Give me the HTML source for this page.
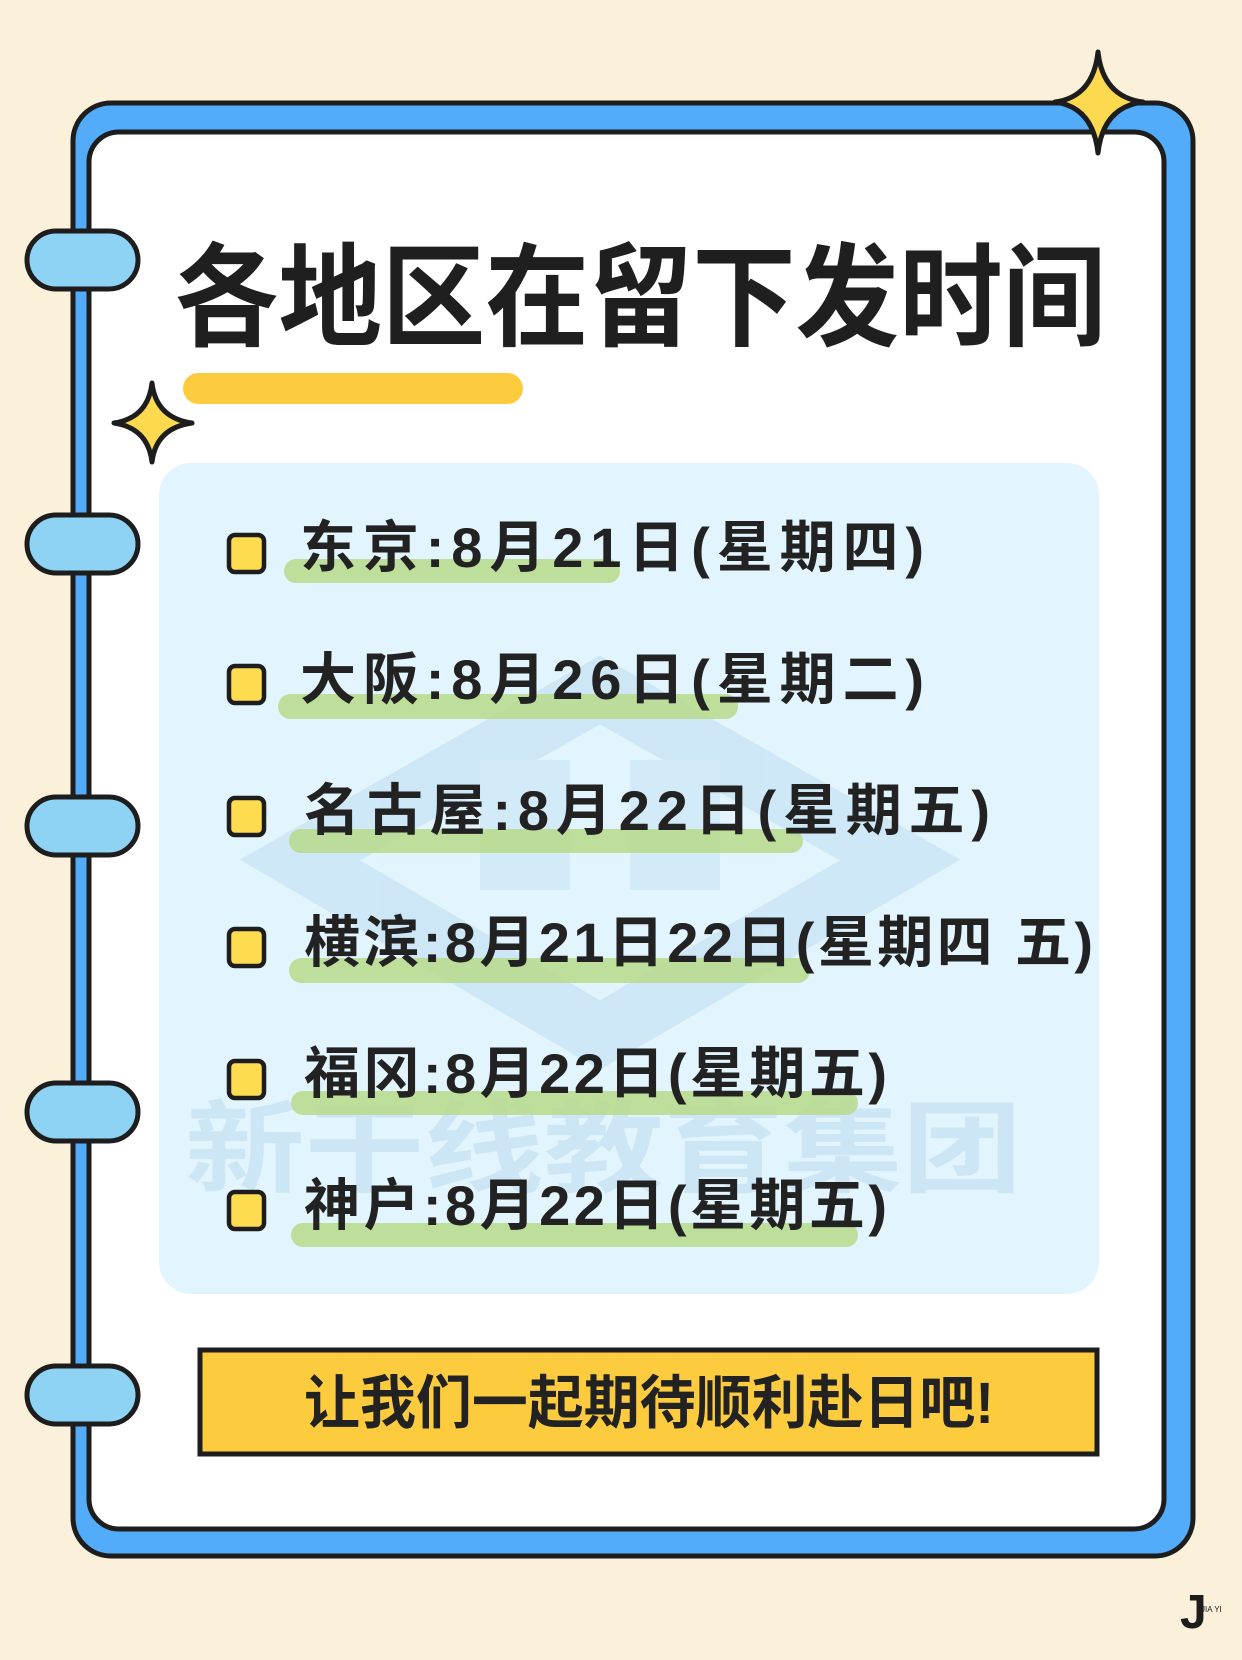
<!DOCTYPE html>
<html><head><meta charset="utf-8"><style>
html,body{margin:0;padding:0;background:#fbf0d9;}
svg{display:block;}
text{font-family:"Liberation Sans","Noto Sans CJK SC",sans-serif;}
</style></head><body>
<svg width="1242" height="1660" viewBox="0 0 1242 1660" xmlns="http://www.w3.org/2000/svg">
<rect width="1242" height="1660" fill="#fbf0d9"/>
<rect x="73" y="103" width="1120" height="1453" rx="38" fill="#52acf9" stroke="#1d1d1d" stroke-width="5"/>
<rect x="89" y="132" width="1075" height="1397" rx="30" fill="#ffffff" stroke="#1d1d1d" stroke-width="5"/>
<g fill="#8fd3f4" stroke="#1d1d1d" stroke-width="5">
<rect x="27" y="231" width="111" height="58" rx="29"/>
<rect x="27" y="515" width="111" height="58" rx="29"/>
<rect x="27" y="797" width="111" height="58" rx="29"/>
<rect x="27" y="1083" width="111" height="58" rx="29"/>
<rect x="27" y="1366" width="111" height="58" rx="29"/>
</g>
<path d="M1098 52 Q1103 97 1143 102 Q1103 107 1098 153 Q1093 107 1055 102 Q1093 97 1098 52Z" fill="#fdd94f" stroke="#1d1d1d" stroke-width="5" stroke-linejoin="round"/>
<path d="M152 383 Q156 418 192 423 Q156 428 152 462 Q148 428 114 423 Q148 418 152 383Z" fill="#fdd94f" stroke="#1d1d1d" stroke-width="5" stroke-linejoin="round"/>
<text x="175" y="337" font-size="112" font-weight="bold" fill="#1f1f1f" textLength="931" lengthAdjust="spacingAndGlyphs">各地区在留下发时间</text>
<rect x="183" y="373" width="340" height="31" rx="15.5" fill="#fdcc3e"/>
<rect x="159" y="463" width="940" height="831" rx="32" fill="#e2f4fd"/>
<g opacity="0.35">
<polygon points="600,690 900,860 600,1035 300,860" fill="none" stroke="#a9d1ee" stroke-width="60"/>
<rect x="480" y="760" width="90" height="130" fill="#b9dcf2"/>
<rect x="630" y="760" width="90" height="130" fill="#b9dcf2"/>
</g>
<text x="185" y="1184" font-size="100" font-weight="bold" fill="#cde6f6" textLength="837" lengthAdjust="spacingAndGlyphs">新干线教育集团</text>
<g fill="#b7d98a" opacity="0.85">
<rect x="284" y="559" width="336" height="24" rx="12"/>
<rect x="278" y="694" width="460" height="25" rx="12.5"/>
<rect x="289" y="829" width="514" height="24" rx="12"/>
<rect x="289" y="958" width="521" height="25" rx="12.5"/>
<rect x="291" y="1091" width="567" height="24" rx="12"/>
<rect x="291" y="1223" width="567" height="24" rx="12"/>
</g>
<g fill="#fedc4f" stroke="#1d1d1d" stroke-width="4.5">
<rect x="229" y="535" width="35" height="37" rx="6"/>
<rect x="229" y="666" width="35" height="37" rx="6"/>
<rect x="229" y="798" width="35" height="37" rx="6"/>
<rect x="229" y="929" width="35" height="37" rx="6"/>
<rect x="229" y="1061" width="35" height="37" rx="6"/>
<rect x="229" y="1192" width="35" height="37" rx="6"/>
</g>
<g font-size="56" font-weight="bold" fill="#222">
<text x="300" y="567" textLength="624">东京:8月21日(星期四)</text>
<text x="300" y="699" textLength="624">大阪:8月26日(星期二)</text>
<text x="304" y="830" textLength="686">名古屋:8月22日(星期五)</text>
<text x="304" y="962" textLength="789">横滨:8月21日22日(星期四 五)</text>
<text x="304" y="1093" textLength="583">福冈:8月22日(星期五)</text>
<text x="304" y="1225" textLength="583">神户:8月22日(星期五)</text>
</g>
<rect x="200" y="1350" width="897" height="104" fill="#fdcc3e" stroke="#1d1d1d" stroke-width="5"/>
<text x="304" y="1423" font-size="58" font-weight="bold" fill="#222" textLength="690" lengthAdjust="spacingAndGlyphs">让我们一起期待顺利赴日吧!</text>
<text x="1180" y="1628" font-size="48" font-weight="bold" fill="#1d1d1d" font-family="Liberation Serif">J</text>
<text x="1201" y="1612" font-size="8" fill="#1d1d1d">JIA YI</text>
</svg>
</body></html>
